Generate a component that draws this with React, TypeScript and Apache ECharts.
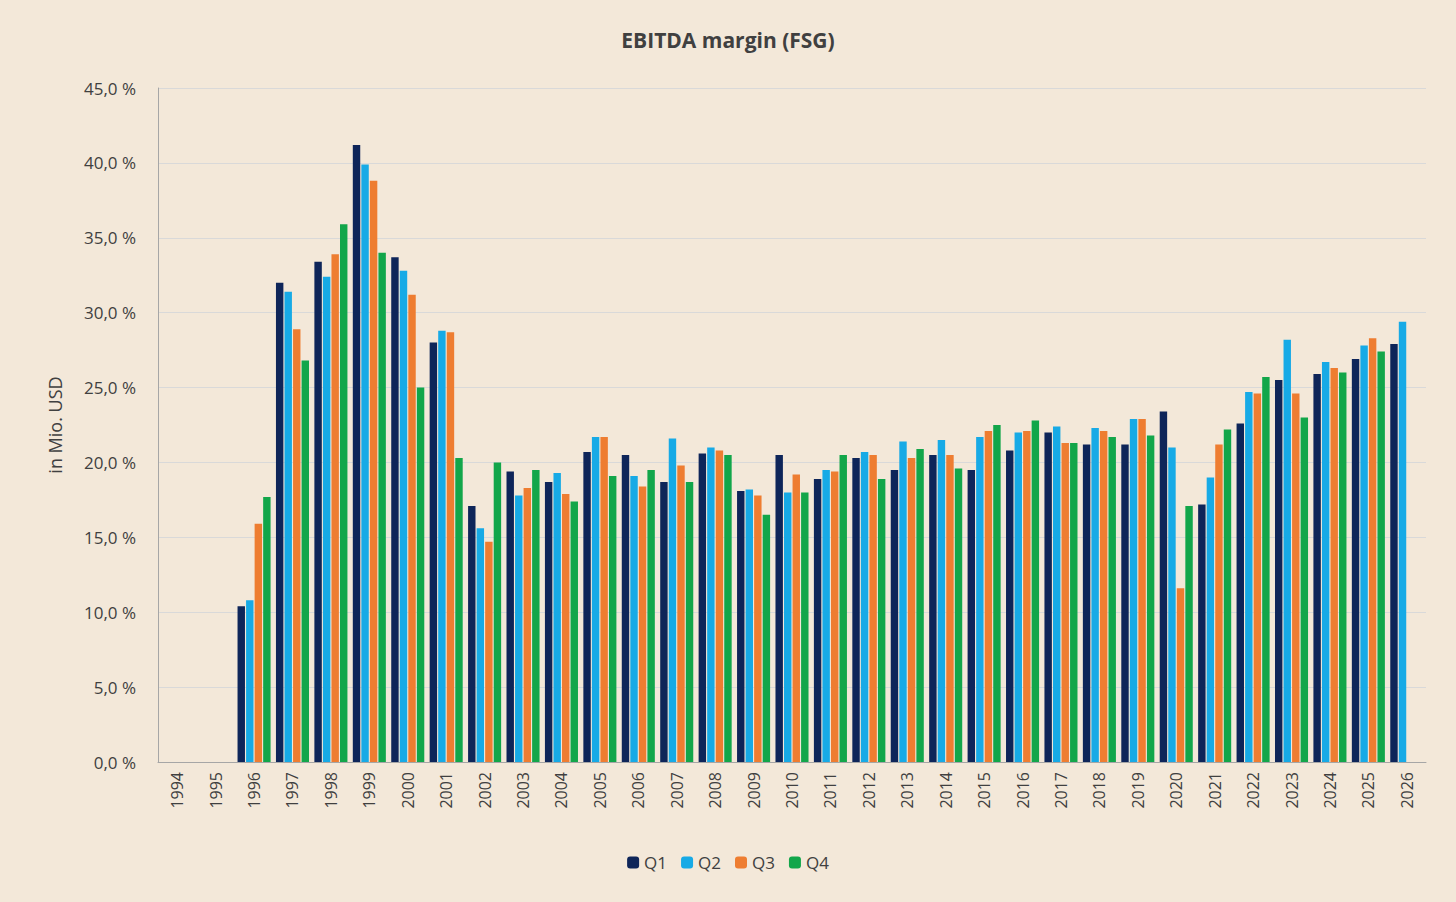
import { useEffect, useRef } from "react";
import * as echarts from "echarts";

const years = [
  "1994", "1995", "1996", "1997", "1998", "1999", "2000", "2001", "2002", "2003", "2004",
  "2005", "2006", "2007", "2008", "2009", "2010", "2011", "2012", "2013", "2014", "2015",
  "2016", "2017", "2018", "2019", "2020", "2021", "2022", "2023", "2024", "2025", "2026",
];

const q1 = [null, null, 10.4, 32.0, 33.4, 41.2, 33.7, 28.0, 17.1, 19.4, 18.7, 20.7, 20.5, 18.7, 20.6, 18.1, 20.5, 18.9, 20.3, 19.5, 20.5, 19.5, 20.8, 22.0, 21.2, 21.2, 23.4, 17.2, 22.6, 25.5, 25.9, 26.9, 27.9];
const q2 = [null, null, 10.8, 31.4, 32.4, 39.9, 32.8, 28.8, 15.6, 17.8, 19.3, 21.7, 19.1, 21.6, 21.0, 18.2, 18.0, 19.5, 20.7, 21.4, 21.5, 21.7, 22.0, 22.4, 22.3, 22.9, 21.0, 19.0, 24.7, 28.2, 26.7, 27.8, 29.4];
const q3 = [null, null, 15.9, 28.9, 33.9, 38.8, 31.2, 28.7, 14.7, 18.3, 17.9, 21.7, 18.4, 19.8, 20.8, 17.8, 19.2, 19.4, 20.5, 20.3, 20.5, 22.1, 22.1, 21.3, 22.1, 22.9, 11.6, 21.2, 24.6, 24.6, 26.3, 28.3, null];
const q4 = [null, null, 17.7, 26.8, 35.9, 34.0, 25.0, 20.3, 20.0, 19.5, 17.4, 19.1, 19.5, 18.7, 20.5, 16.5, 18.0, 20.5, 18.9, 20.9, 19.6, 22.5, 22.8, 21.3, 21.7, 21.8, 17.1, 22.2, 25.7, 23.0, 26.0, 27.4, null];

const seriesDefs = [
  { name: "Q1", data: q1, color: "#0e2559" },
  { name: "Q2", data: q2, color: "#17aae6" },
  { name: "Q3", data: q3, color: "#ee7d31" },
  { name: "Q4", data: q4, color: "#12a64a" },
];

const App = () => {
  const chartRef = useRef<HTMLDivElement>(null);

  useEffect(() => {
    if (!chartRef.current) return;
    document.body.style.margin = "0";
    const chart = echarts.init(chartRef.current, undefined, { renderer: "svg" });

    const option: echarts.EChartsOption = {
      animation: false,
      backgroundColor: "#f3e8d9",
      textStyle: { fontFamily: "Open Sans, Calibri, sans-serif" },
      title: {
        text: "EBITDA margin (FSG)",
        left: "center",
        top: 24,
        textStyle: { color: "#404040", fontSize: 21, fontWeight: "bold" },
      },
      legend: {
        bottom: 26,
        left: "center",
        itemWidth: 12,
        itemHeight: 12,
        itemGap: 14,
        textStyle: { color: "#404040", fontSize: 17 },
        data: seriesDefs.map((s) => s.name),
      },
      grid: { left: 158, right: 30, top: 88, bottom: 140 },
      xAxis: {
        type: "category",
        data: years,
        axisLine: { lineStyle: { color: "#a6a6a6" } },
        axisTick: { show: false },
        axisLabel: { color: "#404040", fontSize: 16, rotate: 90, margin: 10 },
      },
      yAxis: {
        type: "value",
        min: 0,
        max: 45,
        interval: 5,
        name: "in Mio. USD",
        nameLocation: "middle",
        nameGap: 94,
        nameTextStyle: { color: "#404040", fontSize: 18 },
        axisLine: { show: true, lineStyle: { color: "#a6a6a6" } },
        axisTick: { show: false },
        axisLabel: {
          color: "#404040",
          fontSize: 17,
          margin: 22,
          formatter: (v: number) => v.toFixed(1).replace(".", ",") + " %",
        },
        splitLine: { lineStyle: { color: "#d9d9d9" } },
      },
      series: seriesDefs.map((s) => ({
        type: "bar",
        name: s.name,
        data: s.data,
        barGap: "15%",
        barCategoryGap: "14%",
        itemStyle: { color: s.color },
      })),
    };

    chart.setOption(option);
    return () => chart.dispose();
  }, []);

  return <div ref={chartRef} style={{ width: 1456, height: 902 }} />;
};

export default App;
